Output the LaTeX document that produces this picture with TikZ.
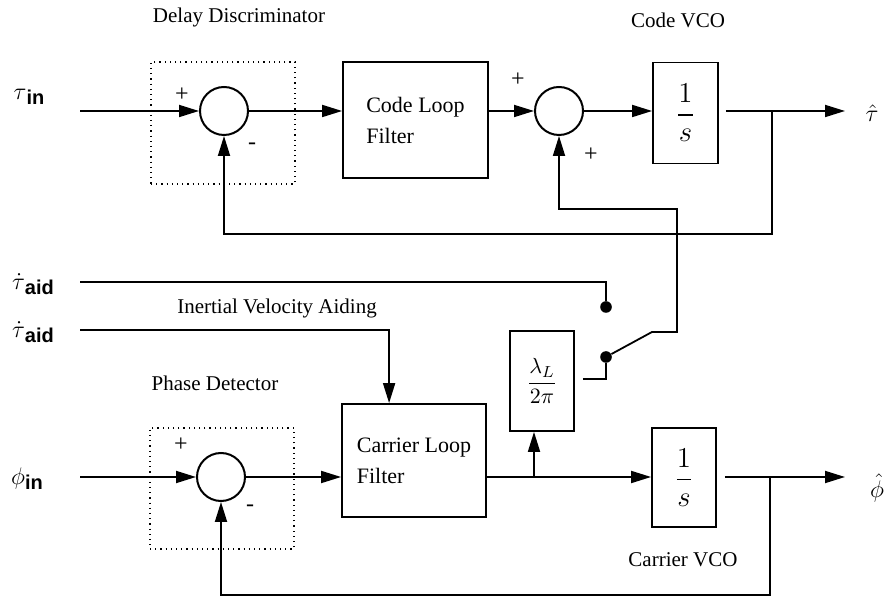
\documentclass[tikz,border=0pt]{standalone}
\usepackage{fontspec}
\setmainfont{Liberation Serif}
\newfontfamily\subsf{Liberation Sans}
\usepackage{amsmath}
\usetikzlibrary{calc, positioning, arrows.meta}

\newcommand{\sigsub}[2]{$#1$\raisebox{-0.45ex}{\normalsize\subsf\bfseries #2}}

\begin{document}
\begin{tikzpicture}[
  x=0.5pt, y=-0.5pt,
  blk/.style={
    rectangle, draw, line width=0.9pt, inner sep=0pt,
    align=left, font=\fontsize{11}{15.5}\selectfont
  },
  sum/.style={
    circle, draw, line width=1pt, minimum size=24pt, inner sep=0pt
  },
  detbox/.style={
    rectangle, draw, dotted, line width=0.6pt, inner sep=0pt
  },
  dot/.style={circle, fill, inner sep=0pt, minimum size=5.8pt},
  arr/.style={-{Triangle[length=10pt,width=6pt]}, line width=0.9pt},
  ln/.style={line width=0.9pt},
  lbl/.style={font=\fontsize{10.5}{12}\selectfont},
  sgn/.style={font=\large, inner sep=1pt},
  sig/.style={font=\large, inner sep=1pt}
]
\useasboundingbox (0,0) rectangle (888,597);

%% ── Lazo de código (arriba) ─────────────────────────────────────────────
\node[detbox] (dd) at (223,123) [minimum width=72pt, minimum height=61pt] {};
\node[sum]    (sum1)  at (224,111) {};
\node[blk]    (cfilt) at (415.5,120) [minimum width=72.5pt, minimum height=58pt] {Code Loop\\Filter};
\node[sum]    (sum2)  at (559,111) {};
\node[blk]    (cvco)  at (685.5,113) [minimum width=32.5pt, minimum height=50.5pt, font=\Large] {$\dfrac{1}{s}$};

%% ── Lazo de portadora (abajo) ───────────────────────────────────────────
\node[detbox] (pd) at (222,488.5) [minimum width=72pt, minimum height=60.5pt] {};
\node[sum]    (sum3)  at (221,477) {};
\node[blk]    (pfilt) at (414,460.5) [minimum width=72pt, minimum height=56.5pt] {Carrier Loop\\Filter};
\node[blk]    (pvco)  at (684,477.5) [minimum width=32pt, minimum height=49.5pt, font=\Large] {$\dfrac{1}{s}$};
\node[blk]    (lam)   at (542,381) [minimum width=32pt, minimum height=50pt] {$\dfrac{\lambda_L}{2\pi}$};

%% ── Conmutador ──────────────────────────────────────────────────────────
\node[dot] (c1) at (606,307) {};
\node[dot] (c2) at (606,357) {};

%% ── Textos ──────────────────────────────────────────────────────────────
\node[lbl] (tdd)  at (239,17)  {Delay Discriminator};
\node[lbl] (tcv)  at (678,20)  {Code VCO};
\node[lbl] (tiva) at (277,308) {Inertial Velocity Aiding};
\node[lbl] (tpd)  at (215,383) {Phase Detector};
\node[lbl] (tpv)  at (683,560) {Carrier VCO};

\node[sig] (tin)   at (29,97)  {\sigsub{\tau}{in}};
\node[sig] (taid1) at (33,284) {\sigsub{\dot{\tau}}{aid}};
\node[sig] (taid2) at (33,332) {\sigsub{\dot{\tau}}{aid}};
\node[sig] (pin)   at (27,479) {\sigsub{\phi}{in}};
\node[sig] (tout)  at (872,113) {$\hat{\tau}$};
\node[sig] (pout)  at (877,488) {$\hat{\phi}$};

\node[sgn] at (182,95)  {+};
\node[sgn] at (252,146) {-};
\node[sgn] at (518,80)  {+};
\node[sgn] at (591,155) {+};
\node[sgn] at (181,445) {+};
\node[sgn] at (250,508) {-};

%% ── Coordenadas libres ──────────────────────────────────────────────────
\coordinate (in1)  at (80,111);
\coordinate (out1) at (845,111);
\coordinate (b1)   at (772,111);
\coordinate (fb1)  at (772,234);
\coordinate (in2)  at (80,477);
\coordinate (out2) at (845,477);
\coordinate (b3)   at (770,477);
\coordinate (fb3)  at (770,595);
\coordinate (a1)   at (80,282);
\coordinate (a2)   at (80,330);
\coordinate (b2)   at (534,477);
\coordinate (sw1)  at (652,332);
\coordinate (sw2)  at (677,332);
\coordinate (sw3)  at (677,209);

%% ── Flechas lazo de código ──────────────────────────────────────────────
\draw[arr] (in1)  -- (sum1.west);
\draw[arr] (sum1) -- (cfilt.west |- sum1);
\draw[arr] (cfilt.east |- sum2) -- (sum2.west);
\draw[arr] (sum2) -- (cvco.west |- sum2);
\draw[arr] ([xshift=3.5pt]cvco.east |- out1) -- (out1);
\draw[arr] (b1) -- (fb1) -| (sum1.south);

%% ── Flechas lazo de portadora ───────────────────────────────────────────
\draw[arr] (in2)  -- (sum3.west);
\draw[arr] (sum3) -- (pfilt.west |- sum3);
\draw[arr] (pfilt.east |- sum3) -- (pvco.west |- sum3);
\draw[arr] ([xshift=4pt]pvco.east |- out2) -- (out2);
\draw[arr] (b3) -- (fb3) -| (sum3.south);
\draw[arr] (b2) -- (b2 |- lam.south);

%% ── Ayuda inercial y conmutador ─────────────────────────────────────────
\draw[ln]  (a1) -| (c1);
\draw[arr] (a2) -| ($(pfilt.north west)+(48,0)$);
\draw[ln]  ([xshift=4pt]lam.east |- 0,379) -| (c2);
\draw[arr] (c2) -- (sw1) -- (sw2) -- (sw3) -| (sum2.south);

\end{tikzpicture}
\end{document}
